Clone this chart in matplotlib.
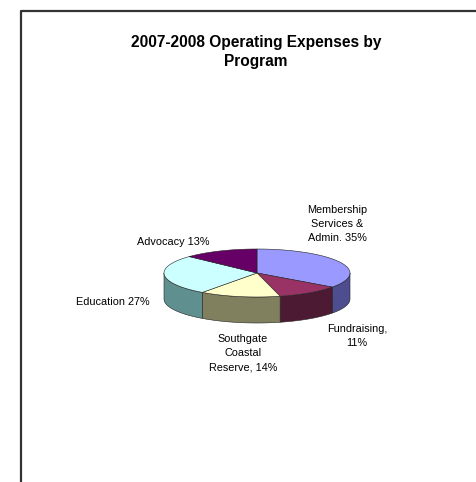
import numpy as np
import matplotlib
matplotlib.use("Agg")
import matplotlib.pyplot as plt
from matplotlib.patches import Polygon

plt.rcParams['font.family'] = ['Liberation Sans', 'DejaVu Sans']

categories = ["Membership Services & Admin.", "Fundraising", "Southgate Coastal Reserve",
              "Education", "Advocacy"]
values = [35, 11, 14, 27, 13]
labels = ["Membership\nServices &\nAdmin. 35%", "Fundraising,\n11%", "Southgate\nCoastal\nReserve, 14%",
          "Education 27%", "Advocacy 13%"]
top_colors = ["#9999FF", "#993366", "#FFFFCC", "#CCFFFF", "#660066"]
side_colors = ["#4D4D8F", "#4D1A33", "#80805F", "#5F8F8F", "#330033"]
title = "2007-2008 Operating Expenses by\nProgram"

W, H = 476, 482
fig = plt.figure(figsize=(W / 100, H / 100), dpi=100)
ax = fig.add_axes([0, 0, 1, 1])
ax.set_xlim(0, W)
ax.set_ylim(H, 0)
ax.axis('off')

# border frame
ax.plot([21, 21, W + 5], [H + 5, 10.5, 10.5], color='#333333', lw=1.6, solid_capstyle='butt')

ax.text(256, 52, title, ha='center', va='center', fontsize=11.2, fontweight='bold',
        linespacing=1.4)

cx, cy, a, b, depth = 257, 273, 93, 24, 26
total = float(sum(values))
bounds = [90 - 360 * c / total for c in np.concatenate([[0], np.cumsum(values)])]


def pt(theta_deg, dy=0.0):
    t = np.radians(theta_deg)
    return cx + a * np.cos(t), cy - b * np.sin(t) + dy


# side walls (front half: theta in [-180, 0] modulo 360)
for i in range(len(values)):
    t1, t2 = bounds[i + 1], bounds[i]  # t1 < t2
    for k in (-360, 0, 360):
        lo = max(t1 + k, -180)
        hi = min(t2 + k, 0)
        if hi > lo:
            ts = np.linspace(lo, hi, 60)
            top = [pt(t) for t in ts]
            bot = [pt(t, depth) for t in ts[::-1]]
            ax.add_patch(Polygon(top + bot, closed=True, facecolor=side_colors[i],
                                 edgecolor='#222222', lw=0.4))

# top faces
for i in range(len(values)):
    ts = np.linspace(bounds[i], bounds[i + 1], 100)
    poly = [(cx, cy)] + [pt(t) for t in ts]
    ax.add_patch(Polygon(poly, closed=True, facecolor=top_colors[i],
                         edgecolor='#222222', lw=0.4))

label_pos = [(337, 224), (357, 336), (243, 353), (113, 302), (173, 242)]
for lab, (x, y) in zip(labels, label_pos):
    ax.text(x, y, lab, ha='center', va='center', fontsize=7.8, linespacing=1.5)

fig.savefig("out.png", dpi=100, facecolor='white')
